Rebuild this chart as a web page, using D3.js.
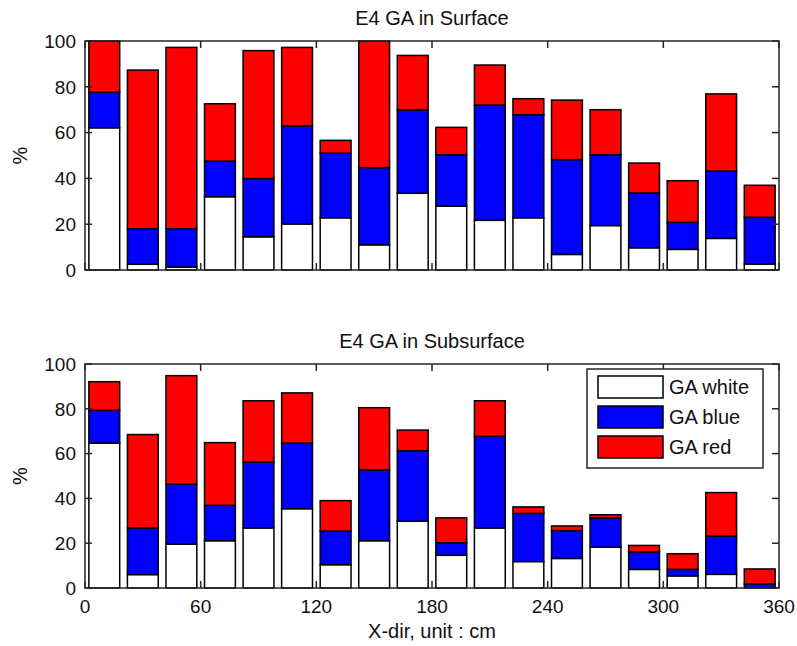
<!DOCTYPE html>
<html>
<head>
<meta charset="utf-8">
<script src="https://cdn.jsdelivr.net/npm/d3@7"></script>
<style>
    html, body { margin: 0; padding: 0; background: #fff; }
    svg { display: block; font-family: "Liberation Sans", Arial, sans-serif; }
</style>
</head>
<body>
<svg id="chart" width="797" height="646"></svg>
<script>
// ==============================
// E4 GA stacked bars (Surface / Subsurface)
// ==============================

// --- 1. Data ---
const positions = [10, 30, 50, 70, 90, 110, 130, 150, 170, 190, 210, 230, 250, 270, 290, 310, 330, 350];
const seriesNames = ["GA white", "GA blue", "GA red"];
const seriesColors = ["#ffffff", "#0000ff", "#ff0000"];
const xTicks = [0, 60, 120, 180, 240, 300, 360];
const yTicks = [0, 20, 40, 60, 80, 100];

const surfaceWhite = [62.1, 2.5, 1.3, 32.0, 14.5, 20.1, 22.8, 11.0, 33.5, 27.9, 21.7, 22.8, 6.8, 19.4, 9.7, 9.0, 13.8, 2.6];
const surfaceBlue  = [15.5, 15.5, 16.7, 15.5, 25.4, 42.8, 28.2, 33.7, 36.4, 22.4, 50.3, 45.0, 41.4, 30.9, 23.9, 11.8, 29.4, 20.4];
const surfaceRed   = [22.4, 69.3, 79.2, 25.1, 55.9, 34.3, 5.6, 55.3, 23.8, 12.0, 17.5, 7.0, 26.0, 19.7, 13.1, 18.2, 33.7, 14.0];

const subWhite = [64.7, 6.0, 19.6, 21.1, 26.8, 35.4, 10.4, 21.1, 29.8, 14.6, 26.8, 11.8, 13.2, 18.2, 8.3, 5.4, 6.1, 0];
const subBlue  = [14.6, 20.8, 26.7, 15.8, 29.5, 29.3, 15.0, 31.6, 31.5, 5.6, 40.9, 21.5, 12.4, 13.1, 7.8, 2.9, 17.1, 1.8];
const subRed   = [12.8, 41.7, 48.5, 28.0, 27.3, 22.4, 13.6, 27.8, 9.2, 11.1, 15.9, 2.9, 2.1, 1.4, 2.9, 7.0, 19.4, 6.7];

// --- 2. Layout ---
const svg = d3.select("#chart");
const left = 85, right = 779;
const panels = [
    { title: "E4 GA in Surface", top: 41, bottom: 270, data: [surfaceWhite, surfaceBlue, surfaceRed], xLabels: false, legend: false },
    { title: "E4 GA in Subsurface", top: 364, bottom: 588, data: [subWhite, subBlue, subRed], xLabels: true, legend: true }
];
const axisColor = "#262626";
const tickLen = 7;
const barWidth = 16;
const labelSize = "20px";

const x = d3.scaleLinear().domain([0, 360]).range([left, right]);

panels.forEach(p => drawPanel(p));

// --- 3. Draw one subplot ---
function drawPanel(p) {
    const y = d3.scaleLinear().domain([0, 100]).range([p.bottom, p.top]);

    const rows = positions.map((pos, i) => ({
        pos: pos,
        "GA white": p.data[0][i],
        "GA blue": p.data[1][i],
        "GA red": p.data[2][i]
    }));
    const stacked = d3.stack().keys(seriesNames)(rows);

    const g = svg.append("g");

    // bars
    stacked.forEach((layer, k) => {
        g.append("g")
            .selectAll("rect")
            .data(layer)
            .join("rect")
            .attr("x", d => x(d.data.pos - barWidth / 2))
            .attr("width", x(barWidth) - x(0))
            .attr("y", d => y(Math.min(d[1], 100)))
            .attr("height", d => Math.max(0, y(d[0]) - y(Math.min(d[1], 100))))
            .attr("fill", seriesColors[k])
            .attr("stroke", "#000")
            .attr("stroke-width", 1.5);
    });

    // box
    g.append("rect")
        .attr("x", left)
        .attr("y", p.top)
        .attr("width", right - left)
        .attr("height", p.bottom - p.top)
        .attr("fill", "none")
        .attr("stroke", axisColor)
        .attr("stroke-width", 1.5);

    // x ticks, bottom and top, pointing in
    xTicks.forEach(t => {
        g.append("line")
            .attr("x1", x(t)).attr("x2", x(t))
            .attr("y1", p.bottom).attr("y2", p.bottom - tickLen)
            .attr("stroke", axisColor).attr("stroke-width", 1.5);
        g.append("line")
            .attr("x1", x(t)).attr("x2", x(t))
            .attr("y1", p.top).attr("y2", p.top + tickLen)
            .attr("stroke", axisColor).attr("stroke-width", 1.5);
    });

    // y ticks, left and right
    yTicks.forEach(t => {
        g.append("line")
            .attr("x1", left).attr("x2", left + tickLen)
            .attr("y1", y(t)).attr("y2", y(t))
            .attr("stroke", axisColor).attr("stroke-width", 1.5);
        g.append("line")
            .attr("x1", right).attr("x2", right - tickLen)
            .attr("y1", y(t)).attr("y2", y(t))
            .attr("stroke", axisColor).attr("stroke-width", 1.5);
        g.append("text")
            .attr("x", left - 9)
            .attr("y", y(t))
            .attr("dy", "0.36em")
            .attr("text-anchor", "end")
            .attr("font-size", "19px")
            .attr("fill", "#111")
            .text(t);
    });

    if (p.xLabels) {
        xTicks.forEach(t => {
            g.append("text")
                .attr("x", x(t))
                .attr("y", p.bottom + 25)
                .attr("text-anchor", "middle")
                .attr("font-size", "19px")
                .attr("fill", "#111")
                .text(t);
        });
        g.append("text")
            .attr("x", (left + right) / 2)
            .attr("y", p.bottom + 50)
            .attr("text-anchor", "middle")
            .attr("font-size", labelSize)
            .attr("fill", "#111")
            .text("X-dir, unit : cm");
    }

    // title
    g.append("text")
        .attr("x", (left + right) / 2)
        .attr("y", p.top - 16)
        .attr("text-anchor", "middle")
        .attr("font-size", labelSize)
        .attr("fill", "#111")
        .text(p.title);

    // y label
    g.append("text")
        .attr("transform", `translate(27,${(p.top + p.bottom) / 2}) rotate(-90)`)
        .attr("text-anchor", "middle")
        .attr("font-size", labelSize)
        .attr("fill", "#111")
        .text("%");

    if (p.legend) drawLegend(g);
}

// --- 4. Legend ---
function drawLegend(g) {
    const lx = 587, ly = 369, lw = 176, lh = 99;
    g.append("rect")
        .attr("x", lx).attr("y", ly)
        .attr("width", lw).attr("height", lh)
        .attr("fill", "#fff")
        .attr("stroke", axisColor)
        .attr("stroke-width", 1.5);

    seriesNames.forEach((name, i) => {
        const ry = ly + 7 + i * 30;
        g.append("rect")
            .attr("x", lx + 11).attr("y", ry)
            .attr("width", 65).attr("height", 22)
            .attr("fill", seriesColors[i])
            .attr("stroke", "#000")
            .attr("stroke-width", 1.5);
        g.append("text")
            .attr("x", lx + 82)
            .attr("y", ry + 11)
            .attr("dy", "0.36em")
            .attr("font-size", labelSize)
            .attr("fill", "#111")
            .text(name);
    });
}
</script>
</body>
</html>
